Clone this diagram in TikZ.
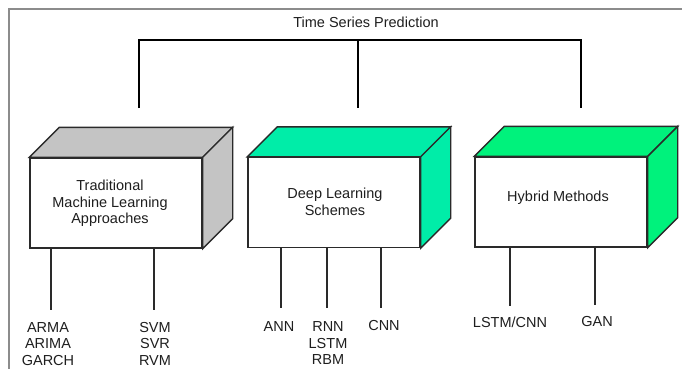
\documentclass[tikz,border=0pt]{standalone}
\usepackage{fontspec}
\setmainfont{Liberation Sans}
\usetikzlibrary{calc}

\definecolor{framegray}{HTML}{8C8C8C}
\definecolor{edgecol}{HTML}{2A2A2A}
\definecolor{greyface}{HTML}{C4C4C4}
\definecolor{tealface}{HTML}{00EDA8}
\definecolor{greenface}{HTML}{00F27C}
\definecolor{ink}{HTML}{1E1E1E}

\tikzset{
  lbl/.style={font=\fontsize{14.5}{16.5}\selectfont, text=ink, align=center, inner sep=0pt},
  frontface/.style={draw=edgecol, line width=1.4pt, fill=white,
    minimum width=172pt, minimum height=90pt, inner sep=0pt},
  facet/.style={draw=edgecol, line width=1.4pt, line join=miter},
  tree/.style={line width=2pt, draw=black},
  leafline/.style={line width=1.3pt, draw=edgecol},
  frameline/.style={line width=1.3pt, draw=framegray},
}

% top and right faces of a box whose front face is node #1
\newcommand\boxfacets[2]{%
  \draw[facet, fill=#2] (#1.north west) -- ++(30,-30)
    -- ($(#1.north east)+(30,-30)$) -- (#1.north east) -- cycle;
  \draw[facet, fill=#2] (#1.north east) -- ++(30,-30)
    -- ($(#1.south east)+(30,-30)$) -- (#1.south east) -- cycle;
}

\begin{document}
\begin{tikzpicture}[x=1pt, y=-1pt]
  \useasboundingbox (0,0) rectangle (682,369);

  % outer frame (top and left edges)
  \draw[frameline] (9,369) -- (9,9) -- (682,9);

  % title and branching bracket
  \node[lbl] (title) at (366,22) {Time Series Prediction};
  \coordinate (hub) at (358,40);
  \coordinate (j1) at (139,108);
  \coordinate (j2) at (358,108);
  \coordinate (j3) at (581,108);
  \draw[tree] (j1) |- (hub) -| (j3);
  \draw[tree] (hub) -- (j2);

  % three category boxes
  \node[frontface] (trad) at (116,203) {};
  \boxfacets{trad}{greyface}
  \node[frontface] (deep) at (334,202.5) {};
  \boxfacets{deep}{tealface}
  \node[frontface] (hyb) at (561,202) {};
  \boxfacets{hyb}{greenface}

  \node[lbl] (tradtxt) at (110,203.5) {Traditional\\Machine Learning\\Approaches};
  \node[lbl] (deeptxt) at (335,202) {Deep Learning\\Schemes};
  \node[lbl] (hybtxt) at (558,198) {Hybrid Methods};

  % leaf methods
  \node[lbl] (arma) at (48,344) {ARMA\\ARIMA\\GARCH};
  \node[lbl] (svm) at (155,343.5) {SVM\\SVR\\RVM};
  \node[lbl] (ann) at (279,327) {ANN};
  \node[lbl] (rnn) at (328,343.5) {RNN\\LSTM\\RBM};
  \node[lbl] (cnn) at (384,326) {CNN};
  \node[lbl] (lstmcnn) at (510,322) {LSTM/CNN};
  \node[lbl] (gan) at (597,322) {GAN};

  % free ends of the leaf connectors
  \coordinate (e1) at (51,310);
  \coordinate (e2) at (154,310);
  \coordinate (e3) at (281,308);
  \coordinate (e4) at (327,308);
  \coordinate (e5) at (381,308);
  \coordinate (e6) at (510,306);
  \coordinate (e7) at (595,305);

  \draw[leafline] (trad.south -| e1) -- (e1);
  \draw[leafline] (trad.south -| e2) -- (e2);
  \draw[leafline] (deep.south -| e3) -- (e3);
  \draw[leafline] (deep.south -| e4) -- (e4);
  \draw[leafline] (deep.south -| e5) -- (e5);
  \draw[leafline] (hyb.south -| e6) -- (e6);
  \draw[leafline] (hyb.south -| e7) -- (e7);
\end{tikzpicture}
\end{document}
